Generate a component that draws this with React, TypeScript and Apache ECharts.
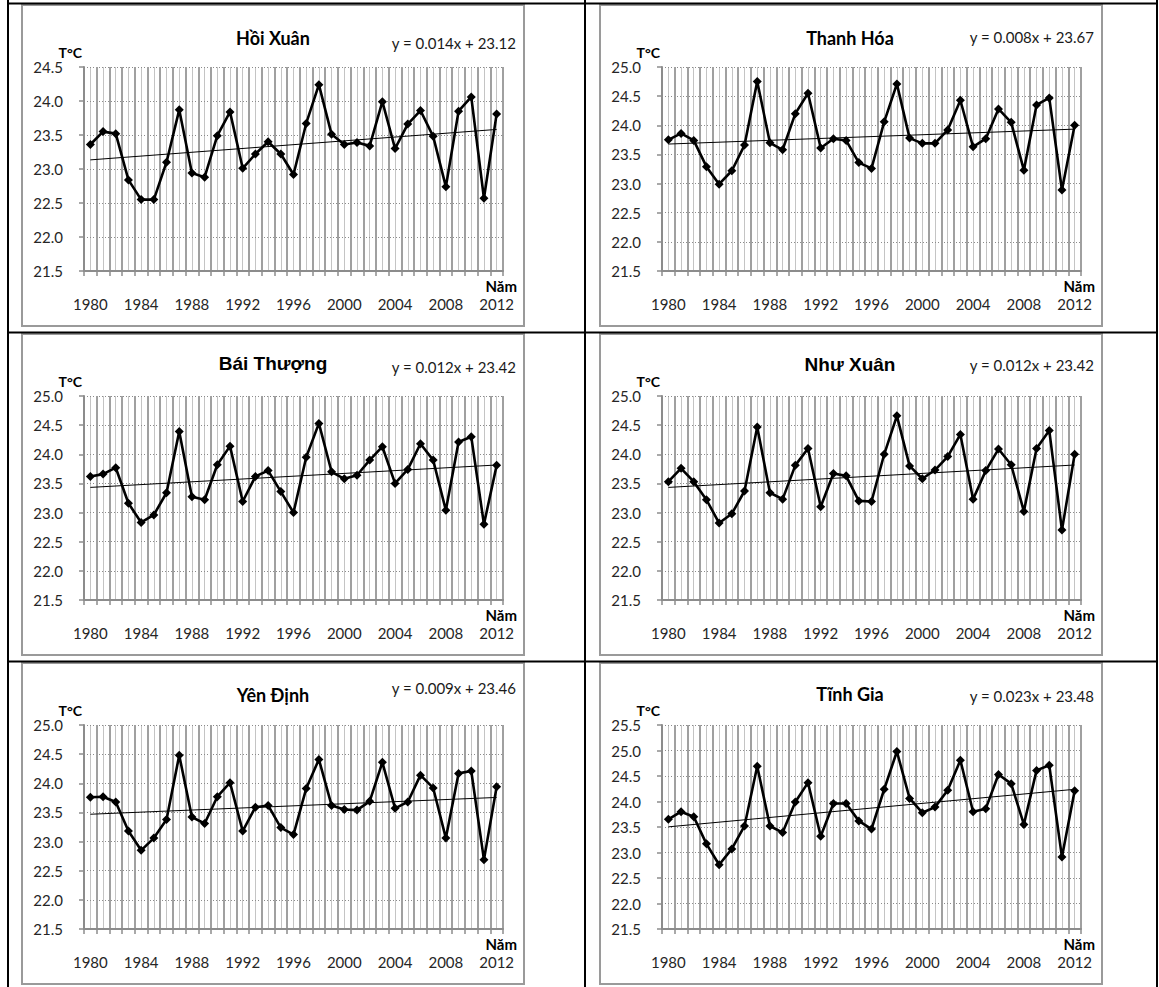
import React, { useEffect, useRef } from "react";
import * as echarts from "echarts";

const years = [
  "1980", "1981", "1982", "1983", "1984", "1985", "1986", "1987", "1988", "1989", "1990",
  "1991", "1992", "1993", "1994", "1995", "1996", "1997", "1998", "1999", "2000", "2001",
  "2002", "2003", "2004", "2005", "2006", "2007", "2008", "2009", "2010", "2011", "2012",
];

const stationNames = ["Hồi Xuân", "Thanh Hóa", "Bái Thượng", "Như Xuân", "Yên Định", "Tĩnh Gia"];

const hoiXuan = [23.36, 23.55, 23.52, 22.84, 22.55, 22.55, 23.1, 23.87, 22.94, 22.88, 23.49, 23.84, 23.01, 23.22, 23.4, 23.22, 22.92, 23.67, 24.24, 23.51, 23.36, 23.39, 23.34, 23.99, 23.3, 23.66, 23.86, 23.48, 22.74, 23.85, 24.06, 22.57, 23.81];
const thanhHoa = [23.75, 23.86, 23.74, 23.29, 22.99, 23.22, 23.66, 24.75, 23.7, 23.58, 24.2, 24.55, 23.61, 23.77, 23.74, 23.36, 23.26, 24.06, 24.71, 23.78, 23.69, 23.69, 23.92, 24.43, 23.63, 23.77, 24.28, 24.05, 23.23, 24.35, 24.47, 22.89, 24.0];
const baiThuong = [23.62, 23.66, 23.77, 23.16, 22.83, 22.96, 23.34, 24.39, 23.27, 23.22, 23.82, 24.14, 23.19, 23.62, 23.72, 23.36, 23.0, 23.95, 24.53, 23.7, 23.58, 23.64, 23.9, 24.13, 23.5, 23.74, 24.18, 23.9, 23.04, 24.21, 24.3, 22.8, 23.81];
const nhuXuan = [23.53, 23.76, 23.53, 23.22, 22.82, 22.98, 23.37, 24.47, 23.34, 23.23, 23.81, 24.1, 23.1, 23.67, 23.63, 23.2, 23.19, 24.0, 24.66, 23.8, 23.58, 23.73, 23.96, 24.34, 23.23, 23.72, 24.09, 23.82, 23.02, 24.1, 24.41, 22.7, 24.0];
const yenDinh = [23.76, 23.77, 23.68, 23.18, 22.85, 23.06, 23.38, 24.48, 23.42, 23.31, 23.77, 24.01, 23.18, 23.59, 23.62, 23.24, 23.12, 23.91, 24.41, 23.62, 23.55, 23.54, 23.69, 24.36, 23.57, 23.68, 24.14, 23.92, 23.06, 24.17, 24.21, 22.69, 23.94];
const tinhGia = [23.65, 23.8, 23.7, 23.17, 22.76, 23.07, 23.52, 24.69, 23.52, 23.39, 23.99, 24.37, 23.32, 23.96, 23.96, 23.62, 23.46, 24.24, 24.98, 24.06, 23.78, 23.89, 24.22, 24.81, 23.8, 23.86, 24.53, 24.35, 23.55, 24.61, 24.71, 22.91, 24.21];

const stationValues = [hoiXuan, thanhHoa, baiThuong, nhuXuan, yenDinh, tinhGia];

const trendSlopes = [0.014, 0.008, 0.012, 0.012, 0.009, 0.023];
const trendIntercepts = [23.12, 23.67, 23.42, 23.42, 23.46, 23.48];
const equationLabels = [
  "y = 0.014x + 23.12",
  "y = 0.008x + 23.67",
  "y = 0.012x + 23.42",
  "y = 0.012x + 23.42",
  "y = 0.009x + 23.46",
  "y = 0.023x + 23.48",
];
const yAxisMax = [24.5, 25.0, 25.0, 25.0, 25.0, 25.5];
const yAxisMin = 21.5;
const yAxisStep = 0.5;
const yUnit = "T°C";
const xUnit = "Năm";

// ---- layout (pixels) ----
const W = 1159;
const H = 987;
const colPlotLeft = [84, 662];
const rowPlotTop = [67, 396, 725];
const rowOffset = [0, 329, 658];
const plotW = 419;
const plotH = 204;
const colBoxLeft = [22, 600];
const boxW = 502;
const boxH = 321;
const boxTop = 5;
const titleCX = [273, 850];
const eqRight = [516, 1094];
const titleMidY = [37.5, 37.5, 363, 364, 695, 694];
const eqMidY = [42.6, 36.6, 366.6, 364.6, 687.6, 695.6];
const arialTitle = [false, false, true, true, false, false];

const CAL = "Lato, 'Open Sans', 'Noto Sans', sans-serif";
const ARIAL = "'Liberation Sans', Arial, sans-serif";

export default function App() {
  const ref = useRef<HTMLDivElement>(null);

  useEffect(() => {
    if (!ref.current) return;
    const chart = echarts.init(ref.current, null, { renderer: "svg" });

    const grids: any[] = [];
    const xAxes: any[] = [];
    const yAxes: any[] = [];
    const series: any[] = [];
    const graphics: any[] = [];

    for (let i = 0; i < 6; i++) {
      const r = Math.floor(i / 2);
      const c = i % 2;
      grids.push({ left: colPlotLeft[c], top: rowPlotTop[r], width: plotW, height: plotH, containLabel: false });

      xAxes.push({
        type: "category",
        gridIndex: i,
        data: years,
        boundaryGap: true,
        axisLine: { show: true, lineStyle: { color: "#8c8c8c", width: 2 } },
        axisTick: { show: true, interval: 0, length: 5, lineStyle: { color: "#8c8c8c", width: 1.5 } },
        axisLabel: { interval: 3, margin: 25, fontSize: 15, color: "#262626", fontFamily: CAL },
        splitLine: { show: true, interval: 0, lineStyle: { color: "#a0a0a0", width: 2 } },
        z: 3,
      });
      xAxes.push({
        type: "value",
        gridIndex: i,
        min: 0,
        max: years.length,
        interval: 0.5,
        show: true,
        axisLine: { show: false },
        axisTick: { show: false },
        axisLabel: { show: false },
        splitLine: { show: true, lineStyle: { color: "#c4c4c4", width: 1 } },
        z: 1,
      });

      yAxes.push({
        type: "value",
        gridIndex: i,
        min: yAxisMin,
        max: yAxisMax[i],
        interval: yAxisStep,
        axisLine: { show: true, lineStyle: { color: "#8c8c8c", width: 2 } },
        axisTick: { show: true, length: 5, lineStyle: { color: "#8c8c8c", width: 1.5 } },
        axisLabel: {
          margin: 21,
          fontSize: 15,
          color: "#262626",
          fontFamily: CAL,
          formatter: (v: number) => v.toFixed(1),
        },
        splitLine: { show: true, lineStyle: { color: "#8c8c8c", width: 1, type: [1, 2] } },
        z: 3,
      });

      const a = trendSlopes[i];
      const b = trendIntercepts[i];
      series.push({
        type: "line",
        name: stationNames[i] + " trend",
        xAxisIndex: i * 2,
        yAxisIndex: i,
        data: [
          [years[0], a * 1 + b],
          [years[years.length - 1], a * years.length + b],
        ],
        symbol: "none",
        lineStyle: { color: "#000", width: 1 },
        silent: true,
        z: 4,
      });
      series.push({
        type: "line",
        name: stationNames[i],
        xAxisIndex: i * 2,
        yAxisIndex: i,
        data: stationValues[i],
        symbol: "diamond",
        symbolSize: 9,
        showAllSymbol: true,
        itemStyle: { color: "#000" },
        lineStyle: { color: "#000", width: 2.6 },
        z: 5,
      });

      graphics.push({
        type: "rect",
        shape: { x: colBoxLeft[c], y: boxTop + rowOffset[r], width: boxW, height: boxH },
        style: { fill: "none", stroke: "#9a9a9a", lineWidth: 2 },
        silent: true,
      });
      graphics.push({
        type: "text",
        x: titleCX[c],
        y: titleMidY[i],
        style: {
          text: stationNames[i],
          fill: "#000",
          font: arialTitle[i] ? `bold 19px ${ARIAL}` : `bold 18px ${CAL}`,
          textAlign: "center",
          textVerticalAlign: "middle",
        },
      });
      graphics.push({
        type: "text",
        x: eqRight[c],
        y: eqMidY[i],
        style: {
          text: equationLabels[i],
          fill: "#1a1a1a",
          font: `15px ${CAL}`,
          textAlign: "right",
          textVerticalAlign: "middle",
        },
      });
      graphics.push({
        type: "text",
        x: colPlotLeft[c] - 2,
        y: 52 + rowOffset[r],
        style: {
          text: yUnit,
          fill: "#000",
          font: `bold 14px ${CAL}`,
          textAlign: "right",
          textVerticalAlign: "middle",
        },
      });
      graphics.push({
        type: "text",
        x: colPlotLeft[c] + plotW + 14,
        y: 285.5 + rowOffset[r],
        style: {
          text: xUnit,
          fill: "#000",
          font: `bold 15px ${CAL}`,
          textAlign: "right",
          textVerticalAlign: "middle",
        },
      });
    }

    const tableX = [8, 585, 1157];
    const tableY = [3.5, 332.5, 661.5, 990];
    tableX.forEach((x) =>
      graphics.push({ type: "line", shape: { x1: x, y1: 0, x2: x, y2: H }, style: { stroke: "#000", lineWidth: 2 }, silent: true })
    );
    tableY.forEach((y) =>
      graphics.push({ type: "line", shape: { x1: 7, y1: y, x2: 1158, y2: y }, style: { stroke: "#000", lineWidth: 2 }, silent: true })
    );

    chart.setOption({
      animation: false,
      backgroundColor: "#ffffff",
      grid: grids,
      xAxis: xAxes,
      yAxis: yAxes,
      series,
      graphic: graphics,
    });

    return () => chart.dispose();
  }, []);

  return (
    <div
      ref={ref}
      style={{ position: "absolute", left: 0, top: 0, width: W, height: H, background: "#fff" }}
    />
  );
}
